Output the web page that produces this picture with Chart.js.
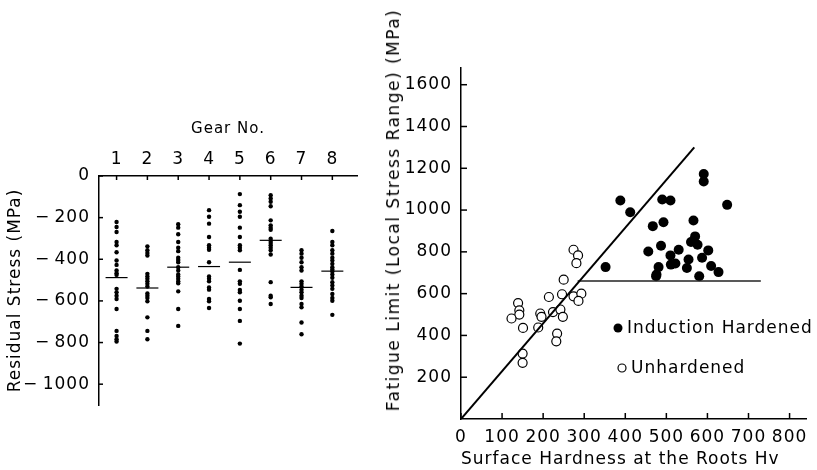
<!DOCTYPE html>
<html>
<head>
<meta charset="utf-8">
<script src="https://cdn.jsdelivr.net/npm/chart.js@4.4.0/dist/chart.umd.min.js"></script>
<style>
  body { margin: 0; background: #fff; }
  #wrap { position: relative; width: 817px; height: 470px; font-family: 'DejaVu Sans', sans-serif; }
  #wrap canvas { position: absolute; top: 0; }
  #left { left: 0; }
  #right { left: 380px; }
  #fatigueTitle {
    position: absolute; left: 393px; top: 210px;
    transform: translate(-50%, -50%) rotate(-90deg);
    white-space: nowrap; font-size: 17px; letter-spacing: 1.5px; color: #000;
  }
</style>
</head>
<body>
<div id="wrap">
  <canvas id="left" width="380" height="470"></canvas>
  <canvas id="right" width="437" height="470"></canvas>
  <div id="fatigueTitle">Fatigue Limit (Local Stress Range) (MPa)</div>
</div>
<script>
// left panel: residual stress measured on each gear
var gears = [1, 2, 3, 4, 5, 6, 7, 8];
var gear1 = [-221, -245, -269, -317, -333, -366, -406, -427, -454, -467, -475, -542, -559, -575, -591, -639, -744, -768, -784, -795];
var gear2 = [-338, -357, -370, -382, -470, -483, -494, -506, -518, -531, -564, -575, -586, -602, -679, -744, -784];
var gear3 = [-232, -248, -280, -317, -345, -361, -393, -403, -414, -438, -454, -473, -483, -494, -506, -515, -554, -639, -720];
var gear4 = [-164, -196, -229, -293, -333, -345, -354, -414, -483, -494, -506, -535, -546, -591, -602, -634];
var gear5 = [-87, -140, -172, -196, -248, -293, -333, -345, -357, -451, -506, -518, -547, -559, -599, -639, -696, -805];
var gear6 = [-92, -108, -124, -145, -213, -237, -248, -258, -301, -312, -322, -333, -345, -357, -377, -510, -575, -583, -615];
var gear7 = [-357, -373, -393, -414, -438, -454, -506, -518, -531, -546, -559, -575, -586, -615, -631, -704, -760];
var gear8 = [-264, -317, -333, -357, -373, -393, -406, -422, -438, -449, -459, -473, -489, -510, -526, -542, -567, -586, -599, -667];
var gearMeans = [-488, -538, -438, -435, -414, -309, -535, -457];
var stressTicks = [0, -200, -400, -600, -800, -1000];

// right panel: fatigue limit vs surface hardness
var inductionHv = [388, 412, 352, 490, 510, 591, 591, 648, 467, 493, 566, 456, 487, 530, 510, 570, 560, 576, 602, 587, 554, 550, 511, 522, 481, 476, 475, 609, 627, 580];
var inductionLimit = [1046, 990, 727, 1051, 1046, 1173, 1137, 1025, 923, 942, 950, 802, 829, 810, 783, 874, 847, 834, 807, 772, 763, 723, 739, 744, 727, 692, 683, 732, 703, 683];
var unhardenedHv = [250, 214, 246, 274, 293, 286, 139, 142, 142, 123, 151, 193, 196, 188, 224, 242, 248, 234, 232, 150, 150, 274, 285, 281];
var unhardenedLimit = [667, 584, 597, 587, 600, 565, 555, 520, 500, 481, 436, 505, 489, 438, 512, 524, 489, 409, 372, 313, 269, 810, 783, 746];
var slopeLineHv = [0, 568];
var slopeLineLimit = [0, 1300];
var floorLineHv = [284, 730];
var floorLineLimit = [660, 660];
var hvTicks = [0, 100, 200, 300, 400, 500, 600, 700, 800];
var limitTicks = [200, 400, 600, 800, 1000, 1200, 1400, 1600];

Chart.defaults.font.family = "'DejaVu Sans', sans-serif";
Chart.defaults.font.size = 17;
Chart.defaults.color = '#000';

function toPoints(xs, ys) {
  return xs.map(function(x, i) { return {x: x, y: ys[i]}; });
}

var gearStress = [gear1, gear2, gear3, gear4, gear5, gear6, gear7, gear8];
var stressPoints = [];
gearStress.forEach(function(vals, i) {
  vals.forEach(function(v) { stressPoints.push({x: gears[i], y: v}); });
});

// small tick marks pointing into the plot, like the printed figure
var inwardTicks = {
  id: 'inwardTicks',
  afterDraw: function(chart, args, opts) {
    var ctx = chart.ctx;
    var len = opts.length || 5;
    ctx.save();
    ctx.strokeStyle = '#000';
    ctx.lineWidth = 1.5;
    Object.values(chart.scales).forEach(function(scale) {
      scale.ticks.forEach(function(t) {
        var p = scale.getPixelForValue(t.value);
        ctx.beginPath();
        if (scale.isHorizontal()) {
          var y = scale.position === 'top' ? scale.bottom : scale.top;
          var dir = scale.position === 'top' ? 1 : -1;
          ctx.moveTo(p, y);
          ctx.lineTo(p, y + dir * len);
        } else {
          ctx.moveTo(scale.right, p);
          ctx.lineTo(scale.right + len, p);
        }
        ctx.stroke();
      });
    });
    ctx.restore();
  }
};

var spacing = {
  id: 'spacing',
  beforeLayout: function(chart) { chart.ctx.letterSpacing = '1px'; },
  beforeDraw: function(chart) { chart.ctx.letterSpacing = '1px'; }
};

var legendItems = [
  {label: 'Induction Hardened', filled: true, x: 238, y: 328},
  {label: 'Unhardened', filled: false, x: 242, y: 368}
];

var innerLegend = {
  id: 'innerLegend',
  afterDraw: function(chart) {
    var ctx = chart.ctx;
    ctx.save();
    ctx.font = "17px 'DejaVu Sans', sans-serif";
    ctx.textBaseline = 'middle';
    ctx.fillStyle = '#000';
    ctx.strokeStyle = '#000';
    ctx.lineWidth = 1.2;
    legendItems.forEach(function(item) {
      ctx.beginPath();
      ctx.arc(item.x, item.y, item.filled ? 4.5 : 4, 0, Math.PI * 2);
      if (item.filled) ctx.fill(); else ctx.stroke();
      ctx.fillText(item.label, item.x + 9, item.y + 1);
    });
    ctx.restore();
  }
};

function setTicks(values) {
  return function(scale) {
    scale.ticks = values.map(function(v) { return {value: v}; });
  };
}

function plain(v) { return String(v); }

new Chart(document.getElementById('left'), {
  type: 'scatter',
  data: {
    datasets: [
      {data: stressPoints, pointRadius: 2.2, backgroundColor: '#000', borderWidth: 0},
      {data: toPoints(gears, gearMeans), pointStyle: 'line', pointRadius: 11, borderColor: '#000', borderWidth: 1.2}
    ]
  },
  options: {
    responsive: false,
    animation: false,
    devicePixelRatio: 1,
    layout: {padding: {left: 0, top: 0, right: 23, bottom: 65}},
    plugins: {legend: {display: false}, tooltip: {enabled: false}, inwardTicks: {length: 4}},
    scales: {
      x: {
        type: 'linear', position: 'top', min: 0.43, max: 8.8,
        afterBuildTicks: setTicks(gears),
        afterFit: function(s) { s.height = 176; },
        grid: {display: false, drawTicks: false},
        border: {color: '#000', width: 1.5},
        ticks: {padding: 6, maxRotation: 0, autoSkip: false, callback: plain},
        title: {display: true, text: 'Gear No.', font: {size: 15}, padding: {top: 120}}
      },
      y: {
        type: 'linear', min: -1100, max: 0,
        afterBuildTicks: setTicks(stressTicks),
        afterFit: function(s) { s.width = 99; },
        grid: {display: false, drawTicks: false},
        border: {color: '#000', width: 1.5},
        ticks: {
          padding: 9,
          callback: function(v) { return v === 0 ? '0' : '\u2212\u2009' + Math.abs(v); }
        },
        title: {display: true, text: 'Residual Stress (MPa)', padding: {top: 5}}
      }
    }
  },
  plugins: [spacing, inwardTicks]
});

new Chart(document.getElementById('right'), {
  type: 'scatter',
  data: {
    datasets: [
      {data: toPoints(slopeLineHv, slopeLineLimit), showLine: true, fill: false, borderColor: '#000', borderWidth: 2, pointRadius: 0},
      {data: toPoints(floorLineHv, floorLineLimit), showLine: true, fill: false, borderColor: '#222', borderWidth: 1.5, pointRadius: 0},
      {data: toPoints(inductionHv, inductionLimit), pointRadius: 5, backgroundColor: '#000', borderWidth: 0},
      {data: toPoints(unhardenedHv, unhardenedLimit), pointRadius: 4.5, backgroundColor: '#fff', borderColor: '#000', borderWidth: 1.2}
    ]
  },
  options: {
    responsive: false,
    animation: false,
    devicePixelRatio: 1,
    layout: {padding: {left: 0, top: 68, right: 11, bottom: 0}},
    plugins: {legend: {display: false}, tooltip: {enabled: false}, inwardTicks: {length: 6}},
    scales: {
      x: {
        type: 'linear', position: 'bottom', min: 0, max: 840,
        afterBuildTicks: setTicks(hvTicks),
        afterFit: function(s) { s.height = 51; },
        grid: {display: false, drawTicks: false},
        border: {color: '#000', width: 1.5},
        ticks: {padding: 8, maxRotation: 0, autoSkip: false, callback: plain},
        title: {display: true, text: 'Surface Hardness at the Roots Hv', align: 'start', padding: {top: 0, bottom: 0}}
      },
      y: {
        type: 'linear', min: 0, max: 1680,
        afterBuildTicks: setTicks(limitTicks),
        afterFit: function(s) { s.width = 81; },
        grid: {display: false, drawTicks: false},
        border: {color: '#000', width: 1.5},
        ticks: {padding: 9, callback: plain}
      }
    }
  },
  plugins: [spacing, inwardTicks, innerLegend]
});
</script>
</body>
</html>
